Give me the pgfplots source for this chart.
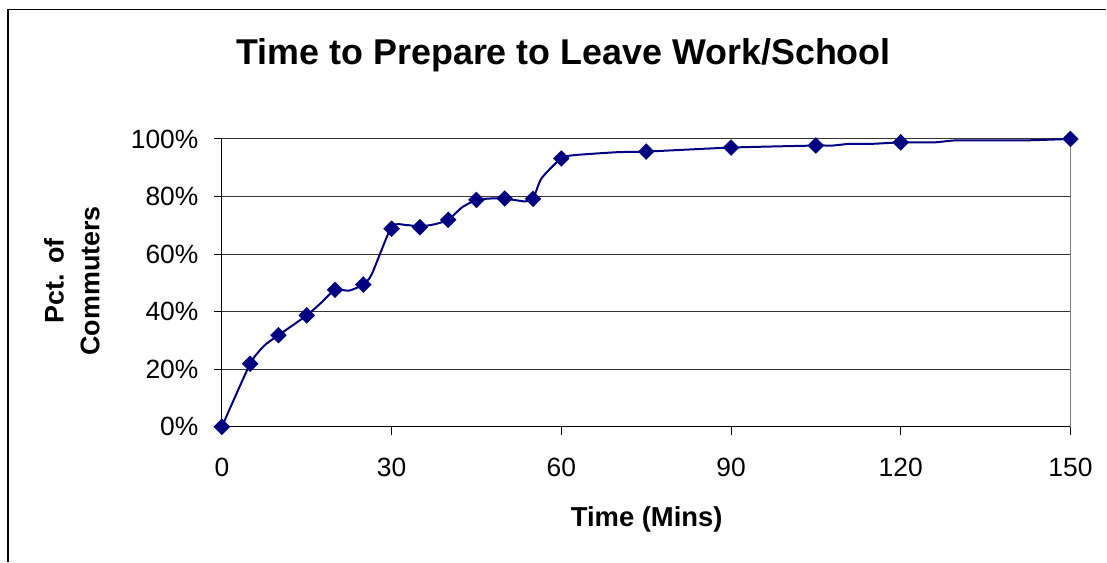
\documentclass[border=0pt]{standalone}
\usepackage{pgfplots}
\pgfplotsset{compat=1.18}
\usepackage{fontspec}
\setmainfont{Liberation Sans}
\definecolor{navy}{RGB}{0,0,128}
\begin{document}
\begin{tikzpicture}
\path (0,0) rectangle (1107bp,562bp);
\draw[line width=1.2bp,black] (8bp,0) -- (8bp,552.5bp) -- (1107bp,552.5bp);
\node[font=\fontsize{36}{40}\selectfont\bfseries, anchor=base] at (564bp,497bp) {Time to Prepare to Leave Work/School};
\node[font=\fontsize{27.5}{30}\selectfont\bfseries, anchor=base] at (647bp,35bp) {Time (Mins)};
\node[font=\fontsize{27}{36}\selectfont\bfseries, rotate=90, align=center] at (72bp,281bp) {Pct. of\\Commuters};
\begin{axis}[
  at={(222bp,135bp)}, anchor=south west,
  scale only axis, width=849bp, height=288bp,
  xmin=0, xmax=150, ymin=0, ymax=100,
  xtick={0,30,...,150}, ytick={0,20,...,100},
  axis x line*=bottom, axis y line*=left,
  axis line style={black, line width=1.1bp, -},
  tick align=outside, major tick length=8bp,
  tick style={black, line width=1bp},
  ymajorgrids, grid style={black!80, line width=1bp},
  yticklabel={\pgfmathprintnumber{\tick}\%},
  tick label style={font=\fontsize{26.5}{30}\selectfont},
  /pgf/number format/assume math mode=true,
  xticklabel style={yshift=-20bp},
  yticklabel style={xshift=-12bp},
  clip=false,
]
\draw[gray, line width=1bp] (rel axis cs:1,0) -- (rel axis cs:1,1);
\addplot[navy, line width=2bp, smooth, tension=0.35, no marks] coordinates {
(0,0) (5,21.9) (7.5,28.2) (10,31.8) (15,38.7) (17.5,43) (20,47.6) (22.5,47.3)
(25,49.4) (26.5,53) (30,69.5) (32.5,70.1) (35,69.6) (37.5,70.3) (40,71.9)
(42.5,76.3) (45,78.8) (47.5,79.3) (50,79.3) (53.5,78.3) (55,79.2) (56.5,86.3)
(60,93.3) (62.5,94.4) (70,95.4) (75,95.6) (90,97.0) (105,97.7) (108,97.7)
(111,98.3) (115,98.3) (120,98.8) (126,98.8) (130,99.5) (142,99.5) (150,100)
};
\addplot[only marks, mark=square*, mark size=5.6bp, navy,
  every mark/.append style={rotate=45, fill=navy}] coordinates {
(0,0) (5,21.9) (10,31.8) (15,38.7) (20,47.6) (25,49.4) (30,68.8) (35,69.3)
(40,71.9) (45,78.8) (50,79.3) (55,79.2) (60,93.2) (75,95.6) (90,97.0)
(105,97.7) (120,98.8) (150,100)
};
\end{axis}
\end{tikzpicture}
\end{document}
